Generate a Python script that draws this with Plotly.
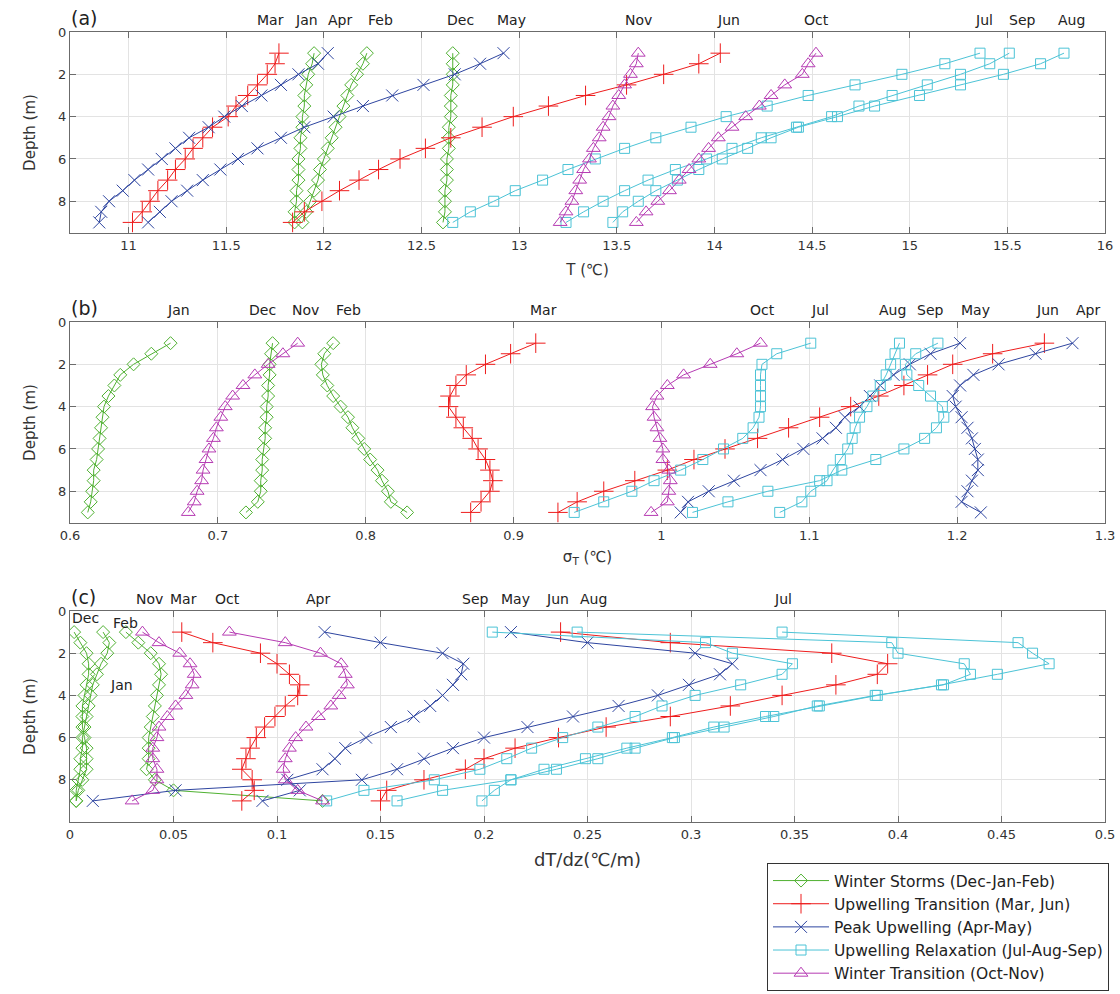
import plotly.graph_objects as go

# ---------------- data ----------------
DEPTH = [1.0, 1.5, 2.0, 2.5, 3.0, 3.5, 4.0, 4.5, 5.0, 5.5, 6.0, 6.5, 7.0, 7.5, 8.0, 8.5, 9.0]

# (a) Temperature T (degC)
T_JAN = [11.95, 11.94, 11.92, 11.91, 11.90, 11.90, 11.89, 11.89, 11.88, 11.88, 11.87, 11.87, 11.87, 11.86, 11.86, 11.85, 11.85]
T_FEB = [12.22, 12.20, 12.17, 12.14, 12.12, 12.10, 12.08, 12.06, 12.04, 12.02, 12.00, 11.98, 11.97, 11.95, 11.93, 11.91, 11.89]
T_MAR = [11.77, 11.75, 11.71, 11.66, 11.61, 11.55, 11.51, 11.43, 11.38, 11.33, 11.29, 11.24, 11.20, 11.15, 11.11, 11.07, 11.02]
T_APR = [12.02, 11.97, 11.87, 11.78, 11.68, 11.58, 11.49, 11.41, 11.31, 11.24, 11.17, 11.10, 11.03, 10.97, 10.90, 10.86, 10.85]
T_MAY = [12.92, 12.80, 12.67, 12.51, 12.35, 12.20, 12.05, 11.90, 11.78, 11.66, 11.56, 11.47, 11.38, 11.30, 11.22, 11.16, 11.10]
T_JUN = [14.03, 13.92, 13.74, 13.55, 13.34, 13.15, 12.97, 12.81, 12.65, 12.52, 12.39, 12.28, 12.18, 12.08, 11.99, 11.90, 11.84]
T_JUL = [15.36, 15.18, 14.96, 14.72, 14.48, 14.27, 14.06, 13.88, 13.70, 13.54, 13.39, 13.25, 13.12, 12.98, 12.87, 12.75, 12.66]
T_AUG = [15.79, 15.67, 15.48, 15.26, 15.05, 14.82, 14.63, 14.43, 14.29, 14.17, 14.04, 13.92, 13.81, 13.70, 13.61, 13.53, 13.48]
T_SEP = [15.51, 15.41, 15.26, 15.09, 14.91, 14.74, 14.60, 14.42, 14.24, 14.09, 13.96, 13.80, 13.66, 13.54, 13.43, 13.33, 13.24]
T_OCT = [14.52, 14.48, 14.45, 14.36, 14.29, 14.23, 14.16, 14.09, 14.02, 13.97, 13.92, 13.87, 13.82, 13.77, 13.71, 13.65, 13.60]
T_NOV = [13.61, 13.60, 13.57, 13.54, 13.51, 13.48, 13.46, 13.43, 13.41, 13.38, 13.36, 13.33, 13.31, 13.29, 13.27, 13.24, 13.21]
T_DEC = [12.66, 12.66, 12.66, 12.66, 12.65, 12.65, 12.65, 12.64, 12.64, 12.64, 12.63, 12.63, 12.63, 12.62, 12.62, 12.62, 12.61]

# (b) sigma_T (degC)
S_JAN = [0.668, 0.655, 0.643, 0.634, 0.630, 0.626, 0.623, 0.622, 0.621, 0.620, 0.619, 0.618, 0.616, 0.616, 0.615, 0.614, 0.612]
S_FEB = [0.778, 0.772, 0.770, 0.771, 0.774, 0.778, 0.783, 0.788, 0.791, 0.795, 0.799, 0.803, 0.808, 0.811, 0.815, 0.817, 0.828]
S_MAR = [0.915, 0.898, 0.881, 0.868, 0.861, 0.857, 0.856, 0.861, 0.866, 0.872, 0.876, 0.881, 0.884, 0.886, 0.884, 0.878, 0.871]
S_APR = [1.278, 1.253, 1.228, 1.211, 1.202, 1.197, 1.199, 1.203, 1.207, 1.210, 1.212, 1.214, 1.214, 1.210, 1.207, 1.203, 1.216]
S_MAY = [1.202, 1.182, 1.168, 1.157, 1.148, 1.141, 1.134, 1.124, 1.118, 1.109, 1.096, 1.082, 1.067, 1.049, 1.032, 1.018, 1.013]
S_JUN = [1.259, 1.224, 1.197, 1.180, 1.164, 1.147, 1.128, 1.107, 1.086, 1.065, 1.043, 1.022, 1.004, 0.982, 0.961, 0.943, 0.930]
S_JUL = [1.101, 1.078, 1.068, 1.067, 1.067, 1.067, 1.067, 1.066, 1.062, 1.055, 1.042, 1.028, 1.013, 0.995, 0.980, 0.961, 0.941]
S_AUG = [1.161, 1.158, 1.155, 1.152, 1.148, 1.143, 1.139, 1.134, 1.131, 1.129, 1.126, 1.121, 1.116, 1.112, 1.101, 1.095, 1.080]
S_SEP = [1.187, 1.172, 1.165, 1.166, 1.174, 1.182, 1.190, 1.191, 1.186, 1.178, 1.164, 1.145, 1.122, 1.107, 1.072, 1.045, 1.021]
S_OCT = [1.067, 1.051, 1.033, 1.015, 1.004, 0.997, 0.994, 0.995, 0.997, 0.999, 1.001, 1.001, 1.005, 1.006, 1.005, 1.004, 0.993]
S_NOV = [0.754, 0.744, 0.734, 0.725, 0.717, 0.710, 0.705, 0.702, 0.699, 0.697, 0.694, 0.692, 0.690, 0.689, 0.686, 0.684, 0.680]
S_DEC = [0.737, 0.736, 0.735, 0.735, 0.734, 0.734, 0.733, 0.733, 0.732, 0.732, 0.731, 0.730, 0.730, 0.729, 0.729, 0.727, 0.719]

# (c) dT/dz (degC/m)
G_JAN = [0.016, 0.019, 0.018, 0.015, 0.013, 0.011, 0.010, 0.009, 0.008, 0.007, 0.006, 0.006, 0.005, 0.005, 0.004, 0.003, 0.003]
G_FEB = [0.027, 0.033, 0.039, 0.043, 0.044, 0.043, 0.042, 0.041, 0.040, 0.039, 0.038, 0.038, 0.038, 0.037, 0.041, 0.050, 0.122]
G_MAR = [0.054, 0.069, 0.092, 0.100, 0.106, 0.111, 0.110, 0.104, 0.099, 0.094, 0.090, 0.087, 0.085, 0.083, 0.088, 0.089, 0.083]
G_APR = [0.123, 0.150, 0.180, 0.190, 0.189, 0.185, 0.180, 0.174, 0.166, 0.155, 0.143, 0.133, 0.128, 0.122, 0.105, 0.111, 0.093]
G_MAY = [0.213, 0.250, 0.302, 0.320, 0.314, 0.299, 0.284, 0.265, 0.243, 0.221, 0.200, 0.185, 0.171, 0.158, 0.141, 0.051, 0.011]
G_JUN = [0.237, 0.290, 0.368, 0.395, 0.390, 0.370, 0.344, 0.319, 0.290, 0.259, 0.236, 0.215, 0.200, 0.191, 0.171, 0.153, 0.150]
G_JUL = [0.344, 0.458, 0.465, 0.473, 0.448, 0.421, 0.390, 0.362, 0.336, 0.311, 0.291, 0.269, 0.249, 0.229, 0.213, 0.205, 0.199]
G_AUG = [0.245, 0.397, 0.400, 0.432, 0.435, 0.422, 0.389, 0.361, 0.340, 0.316, 0.292, 0.273, 0.255, 0.235, 0.213, 0.180, 0.158]
G_SEP = [0.204, 0.307, 0.320, 0.349, 0.344, 0.324, 0.302, 0.286, 0.273, 0.255, 0.238, 0.223, 0.211, 0.198, 0.176, 0.142, 0.124]
G_OCT = [0.077, 0.104, 0.121, 0.131, 0.133, 0.134, 0.130, 0.126, 0.120, 0.114, 0.109, 0.106, 0.104, 0.103, 0.104, 0.110, 0.122]
G_NOV = [0.035, 0.043, 0.053, 0.058, 0.060, 0.059, 0.056, 0.051, 0.047, 0.043, 0.042, 0.040, 0.040, 0.042, 0.042, 0.040, 0.030]
G_DEC = [0.002, 0.005, 0.008, 0.009, 0.009, 0.008, 0.007, 0.006, 0.006, 0.006, 0.007, 0.008, 0.008, 0.008, 0.006, 0.004, 0.003]

MONTHS = ["Jan", "Feb", "Mar", "Apr", "May", "Jun", "Jul", "Aug", "Sep", "Oct", "Nov", "Dec"]
PANEL_A = [T_JAN, T_FEB, T_MAR, T_APR, T_MAY, T_JUN, T_JUL, T_AUG, T_SEP, T_OCT, T_NOV, T_DEC]
PANEL_B = [S_JAN, S_FEB, S_MAR, S_APR, S_MAY, S_JUN, S_JUL, S_AUG, S_SEP, S_OCT, S_NOV, S_DEC]
PANEL_C = [G_JAN, G_FEB, G_MAR, G_APR, G_MAY, G_JUN, G_JUL, G_AUG, G_SEP, G_OCT, G_NOV, G_DEC]

SEASONS = ["Winter Storms (Dec-Jan-Feb)", "Upwelling Transition (Mar, Jun)", "Peak Upwelling (Apr-May)",
           "Upwelling Relaxation (Jul-Aug-Sep)", "Winter Transition (Oct-Nov)"]
SEASON_MONTHS = [["Dec", "Jan", "Feb"], ["Mar", "Jun"], ["Apr", "May"], ["Jul", "Aug", "Sep"], ["Oct", "Nov"]]

# month-name labels above each panel (label text, x position in data units)
LABELS_A = [("Mar", 11.725), ("Jan", 11.91), ("Apr", 12.085), ("Feb", 12.29), ("Dec", 12.70), ("May", 12.96),
            ("Nov", 13.61), ("Jun", 14.07), ("Oct", 14.525), ("Jul", 15.38), ("Sep", 15.58), ("Aug", 15.83)]
LABELS_B = [("Jan", 0.6736), ("Dec", 0.7304), ("Nov", 0.7595), ("Feb", 0.7885), ("Mar", 0.9203), ("Oct", 1.0682),
            ("Jul", 1.1074), ("Aug", 1.1561), ("Sep", 1.1818), ("May", 1.2122), ("Jun", 1.2608), ("Apr", 1.2885)]
LABELS_C = [("Nov", 0.0386), ("Mar", 0.0546), ("Oct", 0.0763), ("Apr", 0.1198), ("Sep", 0.1957), ("May", 0.2150),
            ("Jun", 0.2353), ("Aug", 0.2527), ("Jul", 0.3444)]
LABELS_C_INSIDE = [("Dec", 0.0075, 0.35), ("Feb", 0.027, 0.55), ("Jan", 0.025, 3.5)]

# ---------------- styles ----------------
STYLE = {
    SEASONS[0]: dict(color="#4fb131", symbol="diamond-open", size=10),
    SEASONS[1]: dict(color="#ee1c1c", symbol="cross-thin-open", size=14),
    SEASONS[2]: dict(color="#2e45a0", symbol="x-thin-open", size=12),
    SEASONS[3]: dict(color="#4cc3d6", symbol="square-open", size=10),
    SEASONS[4]: dict(color="#b63bb3", symbol="triangle-up-open", size=12),
}
FONT = "DejaVu Sans"
TXT = "#333333"

fig = go.Figure()

panels = [(PANEL_A, "x", "y"), (PANEL_B, "x2", "y2"), (PANEL_C, "x3", "y3")]
for pi, (pdata, xa, ya) in enumerate(panels):
    for si, season in enumerate(SEASONS):
        st = STYLE[season]
        for mi, m in enumerate(SEASON_MONTHS[si]):
            vals = pdata[MONTHS.index(m)]
            fig.add_trace(go.Scatter(
                x=vals, y=DEPTH, xaxis=xa, yaxis=ya, mode="lines+markers",
                name=season, legendgroup=season,
                showlegend=(pi == 0 and mi == 0),
                line=dict(color=st["color"], width=1),
                marker=dict(symbol=st["symbol"], size=st["size"], color=st["color"],
                            line=dict(color=st["color"], width=1)),
                hovertext=m,
            ))

# ---------------- axes ----------------
axcommon = dict(showline=True, linecolor="#6b6b6b", linewidth=1, mirror="ticks", ticks="inside",
                ticklen=6, tickcolor="#6b6b6b", showgrid=True, gridcolor="#e3e3e3", gridwidth=1,
                zeroline=False, tickfont=dict(family=FONT, size=13, color=TXT))
ytick = dict(tickvals=[0, 2, 4, 6, 8])

W, H = 1120, 994
M_L, M_R, M_T, M_B = 70, 15, 32, 172
PLOT_H = H - M_T - M_B


def dom(top_px, bot_px):
    # top_px / bot_px: pixel rows of the panel frame
    return [(H - M_B - bot_px) / PLOT_H, (H - M_B - top_px) / PLOT_H]


title_font = dict(family=FONT, size=15, color=TXT)
fig.update_layout(
    xaxis=dict(axcommon, range=[10.7, 16], dtick=0.5, anchor="y",
               title=dict(text="T (℃)", font=title_font, standoff=12)),
    yaxis=dict(axcommon, **ytick, range=[9.5, 0], anchor="x", domain=dom(32, 233),
               title=dict(text="Depth (m)", font=title_font, standoff=18)),
    xaxis2=dict(axcommon, range=[0.6, 1.3], dtick=0.1, anchor="y2",
                title=dict(text="σ<sub>T</sub> (℃)", font=title_font, standoff=9)),
    yaxis2=dict(axcommon, **ytick, range=[9.5, 0], anchor="x2", domain=dom(322, 523),
                title=dict(text="Depth (m)", font=title_font, standoff=18)),
    xaxis3=dict(axcommon, range=[0, 0.5], dtick=0.05, anchor="y3",
                title=dict(text="dT/dz(℃/m)", font=dict(family=FONT, size=18, color=TXT), standoff=12)),
    yaxis3=dict(axcommon, **ytick, range=[10, 0], anchor="x3", domain=dom(611, 822),
                title=dict(text="Depth (m)", font=title_font, standoff=18)),
)

annotations = []
for lbls, xr, yr, letter in [(LABELS_A, "x", "y", "(a)"), (LABELS_B, "x2", "y2", "(b)"), (LABELS_C, "x3", "y3", "(c)")]:
    for txt, xv in lbls:
        annotations.append(dict(text=txt, x=xv, xref=xr, y=1, yref=yr + " domain", yanchor="bottom",
                                xanchor="center", showarrow=False, yshift=2,
                                font=dict(family=FONT, size=14, color="#222")))
    annotations.append(dict(text=letter, x=0, xref=xr + " domain", y=1, yref=yr + " domain", yanchor="bottom",
                            xanchor="left", showarrow=False, xshift=-1, yshift=1,
                            font=dict(family=FONT, size=19, color="#222")))
for txt, xv, yv in LABELS_C_INSIDE:
    annotations.append(dict(text=txt, x=xv, xref="x3", y=yv, yref="y3", showarrow=False,
                            font=dict(family=FONT, size=14, color="#222")))

fig.update_layout(
    annotations=annotations,
    width=W, height=H,
    margin=dict(l=M_L, r=M_R, t=M_T, b=M_B, autoexpand=False),
    paper_bgcolor="white", plot_bgcolor="white",
    font=dict(family=FONT, size=13, color=TXT),
    legend=dict(x=(767 - M_L) / (W - M_L - M_R), y=(H - M_B - 863) / PLOT_H,
                xanchor="left", yanchor="top", bordercolor="#333", borderwidth=1,
                bgcolor="white", font=dict(family=FONT, size=15.5, color="#222"), tracegroupgap=0,
                itemwidth=56),
)

# remove the browser's default 8px page margin so the figure fills the window exactly
fig.write_html("out.html", config={"displayModeBar": False},
               post_script="document.body.style.margin='0';document.body.style.overflow='hidden';")
